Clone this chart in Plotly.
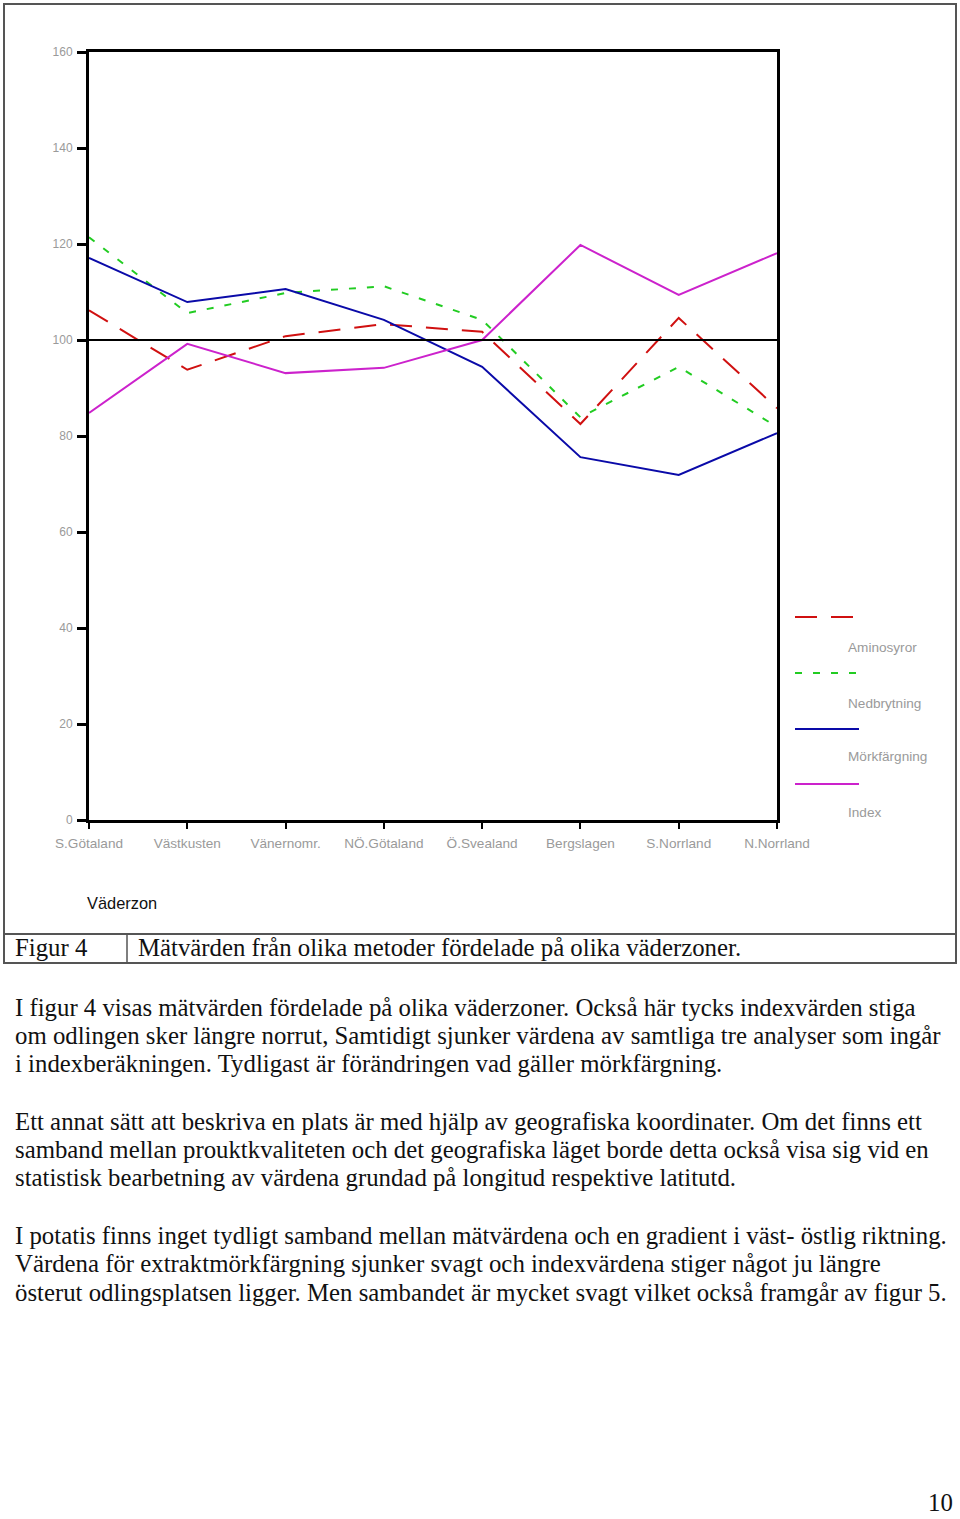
import plotly.graph_objects as go

W, H = 960, 1519

# ---- data ----
zones = ["S.Götaland", "Västkusten", "Vänernomr.", "NÖ.Götaland",
         "Ö.Svealand", "Bergslagen", "S.Norrland", "N.Norrland"]
aminosyror = [106.2, 93.8, 100.8, 103.3, 101.7, 82.5, 104.6, 85.8]
nedbrytning = [121.4, 105.6, 109.8, 111.2, 104.2, 83.9, 94.4, 81.9]
morkfargning = [117.1, 107.9, 110.6, 104.2, 94.4, 75.6, 71.9, 80.6]
index_vals = [84.8, 99.2, 93.1, 94.2, 100.0, 119.8, 109.4, 118.1]
y_ticks = [0, 20, 40, 60, 80, 100, 120, 140, 160]

series = [
    ("Aminosyror", aminosyror, "#D01010", "22px,14px"),
    ("Nedbrytning", nedbrytning, "#22CC22", "7px,11px"),
    ("Mörkfärgning", morkfargning, "#0A0AA8", "solid"),
    ("Index", index_vals, "#CC22CC", "solid"),
]

caption_label = "Figur 4"
caption_text = "Mätvärden från olika metoder fördelade på olika väderzoner."
body_lines = [
    ("I figur 4 visas mätvärden fördelade på olika väderzoner. Också här tycks indexvärden stiga", 1007),
    ("om odlingen sker längre norrut, Samtidigt sjunker värdena av samtliga tre analyser som ingår", 1035),
    ("i indexberäkningen. Tydligast är förändringen vad gäller mörkfärgning.", 1063),
    ("Ett annat sätt att beskriva en plats är med hjälp av geografiska koordinater. Om det finns ett", 1121),
    ("samband mellan prouktkvaliteten och det geografiska läget borde detta också visa sig vid en", 1149),
    ("statistisk bearbetning av värdena grundad på longitud respektive latitutd.", 1177),
    ("I potatis finns inget tydligt samband mellan mätvärdena och en gradient i väst- östlig riktning.", 1235),
    ("Värdena för extraktmörkfärgning sjunker svagt och indexvärdena stiger något ju längre", 1263),
    ("österut odlingsplatsen ligger. Men sambandet är mycket svagt vilket också framgår av figur 5.", 1292),
]
page_number = "10"


def px(x):
    return x / W


def py(y):
    return 1 - y / H


fig = go.Figure()
for name, vals, color, dash in series:
    fig.add_trace(go.Scatter(
        x=zones, y=vals, mode="lines", name=name,
        line=dict(color=color, width=2, dash=dash),
        showlegend=False,
    ))

sans = "Liberation Sans, Arial, sans-serif"
grey = "#9a9a9a"

fig.update_layout(
    width=W, height=H, autosize=False,
    margin=dict(l=0, r=0, t=0, b=0, autoexpand=False),
    paper_bgcolor="white", plot_bgcolor="white",
    showlegend=False,
    xaxis=dict(
        domain=[px(89), px(777)], type="category", range=[0, 7],
        showgrid=False, zeroline=False, automargin=False,
        showline=True, linecolor="black", linewidth=3, mirror=True,
        ticks="outside", ticklen=6, tickwidth=2, tickcolor="black",
        tickfont=dict(family=sans, size=13.6, color=grey), ticklabelstandoff=3,
    ),
    yaxis=dict(
        domain=[py(820), py(52)], range=[0, 160],
        tickvals=y_ticks, automargin=False,
        showgrid=False, zeroline=False,
        showline=True, linecolor="black", linewidth=3, mirror=True,
        ticks="outside", ticklen=9, tickwidth=3, tickcolor="black",
        tickfont=dict(family=sans, size=12, color=grey), ticklabelstandoff=2,
    ),
)

shapes = []
# reference line at 100
shapes.append(dict(type="line", xref="x domain", yref="y", x0=0, x1=1, y0=100, y1=100,
                   line=dict(color="black", width=2)))
# outer frame and caption table
frame_col = "#555555"
shapes.append(dict(type="rect", xref="paper", yref="paper", x0=px(4), x1=px(956),
                   y0=py(963), y1=py(4), line=dict(color=frame_col, width=2)))
shapes.append(dict(type="line", xref="paper", yref="paper", x0=px(4), x1=px(956),
                   y0=py(934), y1=py(934), line=dict(color=frame_col, width=2)))
shapes.append(dict(type="line", xref="paper", yref="paper", x0=px(127), x1=px(127),
                   y0=py(934), y1=py(963), line=dict(color=frame_col, width=1.5)))

annotations = []
# custom legend: line sample with label below
leg_line_y = [617, 673, 729, 784]
leg_label_y = [648, 703, 757, 812]
for (name, vals, color, dash), ly, ty in zip(series, leg_line_y, leg_label_y):
    shapes.append(dict(type="line", xref="paper", yref="paper", x0=px(795), x1=px(859),
                       y0=py(ly), y1=py(ly), line=dict(color=color, width=2, dash=dash)))
    annotations.append(dict(text=name, xref="paper", yref="paper", x=px(846), y=py(ty),
                            xanchor="left", yanchor="middle", showarrow=False,
                            font=dict(family=sans, size=13.6, color=grey)))

# axis title
annotations.append(dict(text="Väderzon", xref="paper", yref="paper", x=px(85), y=py(903),
                        xanchor="left", yanchor="middle", showarrow=False,
                        font=dict(family=sans, size=16.4, color="#111111")))

serif = dict(family="Liberation Serif, Times New Roman, serif", size=24.8, color="#111111")
annotations.append(dict(text=caption_label, xref="paper", yref="paper", x=px(13), y=py(948),
                        xanchor="left", yanchor="middle", showarrow=False, font=serif))
annotations.append(dict(text=caption_text, xref="paper", yref="paper", x=px(136), y=py(948),
                        xanchor="left", yanchor="middle", showarrow=False, font=serif))
for txt, yy in body_lines:
    annotations.append(dict(text=txt, xref="paper", yref="paper", x=px(13), y=py(yy),
                            xanchor="left", yanchor="middle", showarrow=False, font=serif))
annotations.append(dict(text=page_number, xref="paper", yref="paper", x=px(955), y=py(1502),
                        xanchor="right", yanchor="middle", showarrow=False, font=serif))

fig.update_layout(shapes=shapes, annotations=annotations)

fig.write_html("out.html", config={"displayModeBar": False},
               post_script="document.body.style.margin='0';")
